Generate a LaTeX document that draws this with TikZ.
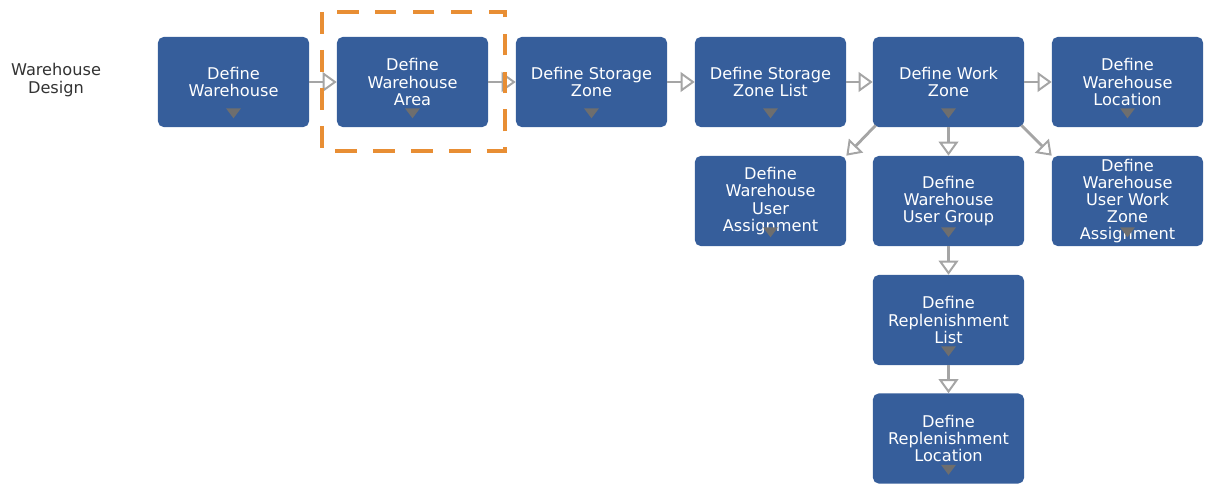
\documentclass[tikz,border=0pt]{standalone}
\usepackage{fontspec}
\setmainfont{DejaVu Sans}
\usepackage{tikz}
\usetikzlibrary{arrows.meta, positioning, calc}
\definecolor{boxblue}{RGB}{54,94,155}
\definecolor{linegray}{RGB}{165,165,165}
\definecolor{markgray}{RGB}{110,110,110}
\definecolor{selorange}{RGB}{232,142,52}

\begin{document}
\begin{tikzpicture}[x=0.025cm, y=-0.025cm, font=\fontsize{11.5}{12.2}\selectfont]
  \tikzset{
    wbox/.style={
      rectangle, rounded corners=4pt,
      minimum width=3.775cm, minimum height=2.25cm,
      align=center, text=white, fill=boxblue, draw=none,
      inner sep=1pt
    },
    flow/.style={
      draw=linegray, line width=2pt,
      -{Triangle[open, length=10pt, width=14pt, line width=1.4pt]}
    }
  }
  \useasboundingbox (0,0) rectangle (1207,484);
  % row label
  \node[text=black!80, align=center] (lbl) at (56,80) {Warehouse\\Design};
  % top row, 179px apart
  \node[wbox] (n1) at (233.5,82) {Define\\Warehouse};
  \node[wbox] (n2) at (412.5,82) {Define\\Warehouse\\Area};
  \node[wbox] (n3) at (591.5,82) {Define Storage\\Zone};
  \node[wbox] (n4) at (770.5,82) {Define Storage\\Zone List};
  \node[wbox] (n5) at (948.5,82) {Define Work\\Zone};
  \node[wbox] (n6) at (1127.5,82) {Define\\Warehouse\\Location};
  % second row
  \node[wbox] (n7) at (770.5,201) {Define\\Warehouse\\User\\Assignment};
  \node[wbox] (n8) at (948.5,201) {Define\\Warehouse\\User Group};
  \node[wbox] (n9) at (1127.5,201) {Define\\Warehouse\\User Work\\Zone\\Assignment};
  % replenishment column
  \node[wbox] (n10) at (948.5,320) {Define\\Replenishment\\List};
  \node[wbox] (n11) at (948.5,438.5) {Define\\Replenishment\\Location};
  % small drop-down marks
  \foreach \n in {n1,n2,n3,n4,n5,n6,n7,n8,n9,n10,n11}{
    \fill[markgray] ($(\n.south)+(-7.5,-19)$) -- ($(\n.south)+(7.5,-19)$)
      -- ($(\n.south)+(0,-9)$) -- cycle;
  }
  % connectors
  \foreach \from/\to in {n1/n2, n2/n3, n3/n4, n4/n5, n5/n6}{
    \draw[flow] (\from.east) -- (\to.west);
  }
  \foreach \from/\to in {n5/n8, n8/n10, n10/n11}{
    \draw[flow] (\from.south) -- (\to.north);
  }
  \draw[flow] ($(n5.south west)+(3,-2)$) -- (n7.north east);
  \draw[flow] ($(n5.south east)+(-3,-2)$) -- (n9.north west);
  % selection frame
  \draw[selorange, line width=3.5pt, dash pattern=on 15.5pt off 11.5pt]
    (322,12) rectangle (505,151);
\end{tikzpicture}
\end{document}
